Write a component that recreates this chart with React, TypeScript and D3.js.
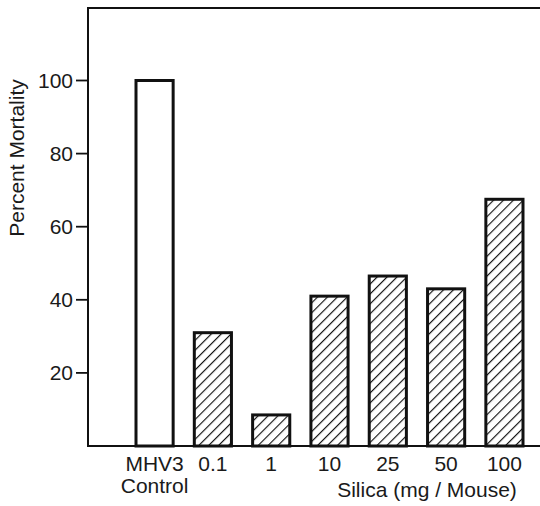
import React from "react";
import * as d3 from "d3";

const categories = ["MHV3", "0.1", "1", "10", "25", "50", "100"];
const values = [100, 31, 8.5, 41, 46.5, 43, 67.5];
const hatched = [false, true, true, true, true, true, true];
const yTicks = [20, 40, 60, 80, 100];

export default function App() {
  const W = 540, H = 506;
  const left = 88, right = 566, top = 8, bottom = 446;
  const y = d3.scaleLinear().domain([0, 120]).range([bottom, bottom - 3.655 * 120]);
  const x = d3.scaleBand().domain(categories).range([136, 523]).paddingInner(0.363).paddingOuter(0);
  const font = "'Liberation Sans', Arial, Helvetica, sans-serif";
  const fs = 21;
  return (
    <svg width={W} height={H} style={{ position: "absolute", left: 0, top: 0 }}>
      <defs>
        <pattern id="hatch" patternUnits="userSpaceOnUse" width="7" height="7" patternTransform="rotate(45)">
          <rect width="7" height="7" fill="white" />
          <line x1="0" y1="0" x2="0" y2="7" stroke="#111" strokeWidth="2.3" />
        </pattern>
      </defs>
      <rect width={W} height={H} fill="white" />
      {/* frame */}
      <line x1={left} y1={top} x2={right} y2={top} stroke="#111" strokeWidth={2} />
      <line x1={left} y1={top - 1} x2={left} y2={bottom + 1} stroke="#111" strokeWidth={2} />
      <line x1={left} y1={bottom} x2={right} y2={bottom} stroke="#111" strokeWidth={2} />
      {/* y ticks */}
      {yTicks.map((t) => (
        <g key={t}>
          <line x1={left - 12} x2={left} y1={y(t)} y2={y(t)} stroke="#111" strokeWidth={1.8} />
          <text x={left - 15} y={y(t)} dy="0.36em" textAnchor="end" fontSize={fs} fontFamily={font} fill="#1a1a1a">
            {t}
          </text>
        </g>
      ))}
      <text
        transform={`translate(24, 158) rotate(-90)`}
        textAnchor="middle"
        fontSize={fs}
        fontFamily={font}
        fill="#1a1a1a"
      >
        Percent Mortality
      </text>
      {/* bars */}
      {categories.map((c, i) => (
        <rect
          key={c}
          x={x(c)}
          y={y(values[i])}
          width={x.bandwidth()}
          height={bottom - y(values[i])}
          fill={hatched[i] ? "url(#hatch)" : "white"}
          stroke="#111"
          strokeWidth={3}
        />
      ))}
      {/* x labels */}
      {categories.map((c) => (
        <text
          key={c}
          x={(x(c) as number) + x.bandwidth() / 2}
          y={471}
          textAnchor="middle"
          fontSize={fs}
          fontFamily={font}
          fill="#1a1a1a"
        >
          {c}
        </text>
      ))}
      <text
        x={(x("MHV3") as number) + x.bandwidth() / 2}
        y={493}
        textAnchor="middle"
        fontSize={fs}
        fontFamily={font}
        fill="#1a1a1a"
      >
        Control
      </text>
      <text x={427} y={497} textAnchor="middle" fontSize={fs} fontFamily={font} fill="#1a1a1a">
        Silica (mg / Mouse)
      </text>
    </svg>
  );
}
